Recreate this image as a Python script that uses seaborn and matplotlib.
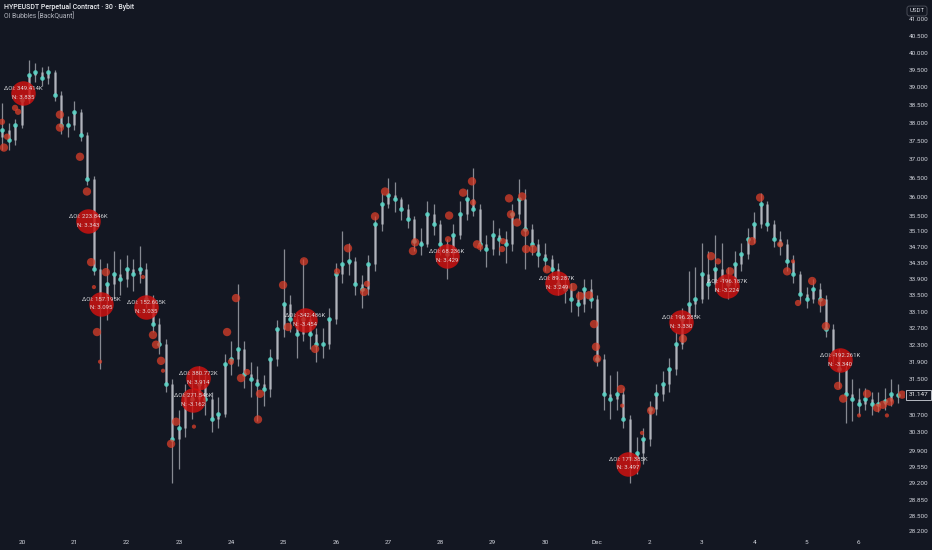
import numpy as np
import pandas as pd
import matplotlib
matplotlib.use("Agg")
import matplotlib.pyplot as plt
import matplotlib.transforms as mtransforms
import seaborn as sns

# 3h candles, time in hours from Nov 20 00:00
candle_hours = list(range(-9, 403, 3))
first_open = 37.60
closes = [37.81, 37.54, 37.95, 38.64, 39.35, 39.44, 39.27, 39.44, 38.78, 37.95,
          37.95, 38.31, 37.67, 36.46, 34.14, 33.41, 33.78, 34.02, 33.90, 34.14,
          34.02, 34.14, 33.41, 32.80, 32.33, 31.40, 30.16, 30.39, 31.17, 31.06,
          31.40, 31.06, 30.61, 30.72, 31.86, 31.98, 32.21, 31.63, 31.51, 31.40,
          31.28, 31.98, 32.68, 33.28, 32.92, 32.57, 32.92, 32.57, 32.33, 32.33,
          32.92, 34.02, 34.27, 34.34, 33.78, 33.65, 34.27, 35.28, 35.80, 36.06,
          35.93, 35.67, 35.41, 34.85, 34.77, 35.54, 35.28, 34.77, 34.52, 35.02,
          35.54, 35.93, 35.67, 34.77, 34.65, 35.02, 34.90, 34.77, 35.54, 35.93,
          35.15, 34.77, 34.52, 34.39, 34.14, 33.78, 33.65, 33.41, 33.28, 33.65,
          33.41, 31.98, 31.17, 31.06, 31.17, 30.61, 29.73, 29.84, 30.16, 30.83,
          31.17, 31.40, 31.74, 32.33, 32.92, 33.28, 33.41, 34.02, 33.78, 34.14,
          33.90, 33.78, 34.27, 34.52, 34.90, 35.28, 35.80, 35.28, 34.90, 34.77,
          34.34, 34.02, 33.53, 33.41, 33.65, 33.41, 32.68, 32.10, 31.74, 31.17,
          31.06, 30.94, 31.06, 30.94, 30.94, 31.00, 31.17, 31.147]
highs = [38.56, 38.00, 38.10, 38.80, 39.79, 39.70, 39.60, 39.62, 39.50, 38.90,
         38.20, 38.60, 38.40, 37.75, 36.55, 34.40, 34.30, 34.60, 34.40, 34.50,
         34.40, 34.72, 34.30, 33.50, 32.95, 32.45, 31.50, 30.80, 31.40, 31.70,
         31.80, 31.60, 31.20, 31.10, 32.10, 32.40, 33.78, 32.40, 31.90, 31.80,
         31.60, 32.20, 32.90, 34.65, 33.50, 33.10, 34.40, 33.10, 32.70, 32.70,
         33.20, 34.30, 35.10, 34.80, 34.45, 34.00, 34.50, 35.50, 36.10, 36.50,
         36.40, 36.00, 35.80, 35.50, 35.20, 35.90, 35.80, 35.40, 34.90, 35.30,
         35.90, 36.20, 36.76, 35.80, 35.00, 35.40, 35.20, 35.10, 35.80, 36.46,
         36.20, 35.30, 34.90, 34.80, 34.50, 34.30, 34.00, 33.80, 33.60, 33.90,
         33.90, 33.50, 32.10, 31.60, 31.70, 31.30, 30.70, 30.20, 30.40, 31.00,
         31.40, 31.70, 32.00, 32.60, 33.20, 34.10, 34.20, 34.80, 34.60, 35.00,
         34.80, 34.20, 34.60, 34.80, 35.20, 35.60, 36.10, 35.90, 35.40, 35.10,
         34.90, 34.50, 34.10, 33.70, 33.90, 33.80, 33.50, 32.80, 32.20, 31.90,
         31.50, 31.30, 31.30, 31.20, 31.20, 31.30, 31.50, 31.40]
lows = [37.26, 37.26, 37.40, 37.85, 38.55, 39.15, 39.05, 39.10, 38.60, 37.70,
        37.60, 37.80, 37.50, 36.30, 34.00, 31.74, 32.90, 33.40, 33.50, 33.70,
        33.60, 33.80, 33.20, 32.60, 32.10, 31.20, 29.20, 29.50, 30.20, 30.60,
        30.90, 30.70, 30.30, 30.40, 30.65, 31.60, 31.80, 31.30, 31.10, 30.56,
        30.90, 31.10, 31.80, 32.50, 32.60, 32.00, 32.40, 32.20, 31.90, 32.00,
        32.20, 32.80, 33.80, 34.00, 33.50, 33.20, 33.50, 34.10, 35.10, 35.70,
        35.60, 35.40, 35.20, 34.60, 34.50, 34.70, 35.00, 34.50, 33.90, 34.40,
        34.90, 35.40, 35.50, 34.60, 34.20, 34.50, 34.50, 34.30, 34.60, 35.40,
        34.15, 34.50, 34.20, 34.10, 33.90, 33.50, 33.30, 33.10, 33.00, 33.10,
        33.20, 31.80, 30.80, 30.60, 30.80, 30.40, 29.20, 29.40, 29.60, 30.00,
        30.70, 31.00, 31.20, 31.60, 32.20, 32.70, 33.00, 33.30, 33.40, 33.60,
        33.60, 33.40, 33.70, 34.10, 34.40, 34.80, 35.20, 35.10, 34.70, 34.50,
        34.10, 33.80, 33.30, 33.20, 33.30, 33.10, 32.50, 31.90, 31.30, 30.50,
        30.55, 30.70, 30.80, 30.70, 30.75, 30.80, 30.90, 30.95]

# small OI bubbles: time (h), price, radius (px)
bub_hours = [-9.2, -6.9, -8.3, -3.2, -1.8, 17.4, 17.4, 26.6, 29.8, 31.7, 38.5, 34.4,
             35.8, 33.0, 55.5, 60.1, 61.5, 63.8, 64.7, 70.7, 68.4, 78.9, 94.1, 98.2,
             95.9, 100.5, 103.3, 108.3, 109.2, 119.8, 122.1, 129.4, 134.5, 144.6,
             149.6, 157.0, 158.3, 162.0, 166.6, 179.4, 180.4, 196.0, 195.5, 202.4,
             206.5, 207.0, 208.8, 210.2, 220.7, 220.3, 223.5, 224.4, 227.2, 229.5,
             230.8, 231.3, 234.5, 240.9, 252.9, 256.1, 260.2, 262.5, 263.4, 263.9,
             274.9, 275.4, 288.7, 284.5, 303.3, 316.2, 319.4, 324.9, 335.0, 338.7,
             347.9, 351.1, 353.8, 356.1, 362.6, 367.1, 368.9, 374.5, 376.8, 387.8,
             392.4, 395.1, 398.3, 403.9, 384.1, 396.9]
bub_prices = [38.03, 37.62, 37.32, 38.42, 38.31, 38.23, 37.87, 37.07, 36.14, 34.32,
              34.07, 32.61, 31.91, 33.70, 33.95, 32.54, 32.31, 31.93, 31.70, 30.54,
              30.05, 30.43, 32.61, 33.43, 31.91, 31.53, 31.67, 30.59, 31.17, 33.75,
              32.73, 34.34, 32.21, 34.09, 34.67, 33.58, 33.78, 35.49, 36.14, 34.60,
              34.82, 35.51, 34.90, 36.11, 36.41, 35.85, 34.77, 34.70, 34.85, 34.65,
              35.96, 35.54, 35.33, 36.01, 35.07, 34.65, 34.65, 34.14, 33.70, 33.48,
              33.50, 32.80, 32.26, 31.98, 31.28, 30.90, 30.79, 30.29, 32.45, 34.47,
              34.34, 34.09, 34.85, 35.98, 34.77, 34.09, 34.34, 33.31, 33.85, 33.33,
              32.75, 31.35, 31.06, 31.17, 30.85, 30.92, 30.99, 31.15, 30.68, 30.68]
bub_radius = [3, 3, 4, 3, 3, 4, 4, 4, 4, 4, 4, 4, 2, 2, 2, 4, 4, 4, 2, 4, 4, 2, 4, 4,
              3, 4, 3, 4, 4, 4, 4, 4, 4, 3, 4, 4, 3, 4, 4, 4, 4, 4, 3, 4, 4, 3, 4, 3,
              3, 3, 4, 4, 4, 4, 4, 4, 4, 4, 4, 4, 4, 4, 4, 4, 4, 2, 4, 2, 4, 4, 3, 4,
              4, 4, 3, 4, 2, 3, 4, 4, 4, 4, 4, 4, 4, 4, 4, 4, 2, 2]

# large labelled bubbles
big_hours = [0.5, 30.3, 36.3, 56.9, 80.8, 78.5, 129.9, 195.0, 245.5, 278.1, 302.4, 323.5, 375.4]
big_prices = [38.83, 35.36, 33.29, 33.21, 31.53, 31.03, 32.90, 34.47, 33.80, 29.62, 32.85, 33.73, 31.95]
big_oi = ["349.414K", "223.846K", "157.195K", "152.605K", "380.772K", "271.546K",
          "-342.486K", "68.236K", "89.287K", "171.385K", "196.288K", "-196.187K", "-192.261K"]
big_n = ["3.835", "3.343", "3.095", "3.035", "3.914", "-3.162",
         "-3.454", "3.429", "3.249", "3.497", "3.330", "-3.224", "-3.340"]

price_ticks = [41.0, 40.5, 40.0, 39.5, 39.0, 38.5, 38.0, 37.5, 37.0, 36.5, 36.0, 35.5,
               35.1, 34.7, 34.3, 33.9, 33.5, 33.1, 32.7, 32.3, 31.9, 31.5, 30.7, 30.3,
               29.9, 29.55, 29.2, 28.85, 28.5, 28.2]
day_labels = ["20", "21", "22", "23", "24", "25", "26", "27", "28", "29", "30",
              "Dec", "2", "3", "4", "5", "6"]
last_price = 31.147

bg = "#131722"
sns.set_theme(style="dark", rc={"axes.facecolor": bg, "figure.facecolor": bg})
plt.rcParams["font.family"] = ["Roboto", "DejaVu Sans"]

fig = plt.figure(figsize=(9.32, 5.5), dpi=100)
ax = fig.add_axes([0, 13 / 550, 905 / 932, 537 / 550])
ax.set_facecolor(bg)

opens = [first_open] + closes[:-1]
candles = pd.DataFrame({"h": candle_hours, "o": opens, "c": closes, "hi": highs, "lo": lows})

# wicks and bodies
ax.vlines(candles["h"], candles["lo"], candles["hi"], color="#d6d8de", alpha=0.6, lw=0.9, zorder=2)
ax.vlines(candles["h"], candles[["o", "c"]].min(axis=1), candles[["o", "c"]].max(axis=1),
          color="#c4c7ce", alpha=0.7, lw=1.8, zorder=2)

# teal bubbles on each candle
sns.scatterplot(data=candles, x="h", y="c", color="#5cd6c8", s=11, linewidth=0,
                alpha=0.9, legend=False, ax=ax, zorder=3)

small = pd.DataFrame({"h": bub_hours, "p": bub_prices,
                      "s": [(1.5 * r) ** 2 for r in bub_radius]})
smin, smax = small["s"].min(), small["s"].max()
sns.scatterplot(data=small, x="h", y="p", size="s", sizes=(smin, smax), size_norm=(smin, smax),
                color="#e2402a", alpha=0.72, linewidth=0, legend=False, ax=ax, zorder=4)

big = pd.DataFrame({"h": big_hours, "p": big_prices})
sns.scatterplot(data=big, x="h", y="p", color="#d4110f", s=310, alpha=0.82,
                linewidth=0, legend=False, ax=ax, zorder=5)
for h, p, oi, n in zip(big_hours, big_prices, big_oi, big_n):
    ax.annotate("ΔOI: " + oi, (h, p), xytext=(0, 3.2), textcoords="offset points",
                ha="center", va="center", fontsize=4.3, color="#e6e7ea", alpha=0.9, zorder=6)
    ax.annotate("N: " + n, (h, p), xytext=(0, -3.0), textcoords="offset points",
                ha="center", va="center", fontsize=4.3, color="#e6e7ea", alpha=0.9, zorder=6)

# axes
ax.set_yscale("log")
ax.set_ylim(28.07, 41.574)
ax.set_xlim(-10.1, 405.2)
ax.set_yticks(price_ticks)
ax.set_yticklabels([f"{v:.3f}" for v in price_ticks])
ax.yaxis.set_minor_locator(matplotlib.ticker.NullLocator())
ax.yaxis.tick_right()
ax.set_xticks([24 * i for i in range(len(day_labels))])
ax.set_xticklabels(day_labels)
ax.tick_params(axis="y", length=0, pad=3, labelsize=4.6, labelcolor="#d1d4dc")
ax.tick_params(axis="x", length=0, pad=2, labelsize=4.6, labelcolor="#d1d4dc")
ax.set_xlabel("")
ax.set_ylabel("")
ax.grid(False)
for sp in ax.spines.values():
    sp.set_visible(False)

# last price tag
trans = mtransforms.blended_transform_factory(ax.transAxes, ax.transData)
ax.text(1.004, last_price, f"{last_price:.3f}", transform=trans, ha="left", va="center",
        fontsize=4.6, color="#e6e7ea", clip_on=False, zorder=7,
        bbox=dict(boxstyle="square,pad=0.35", fc=bg, ec="#d1d4dc", lw=0.6))

# currency tag
fig.text(917 / 932, 1 - 11 / 550, "USDT", ha="center", va="center", fontsize=4.4,
         color="#d1d4dc", bbox=dict(boxstyle="round,pad=0.4", fc=bg, ec="#50535e", lw=0.6))

fig.text(4 / 932, 1 - 7 / 550, "HYPEUSDT Perpetual Contract · 30 · Bybit", ha="left",
         va="center", fontsize=5.0, color="#eceef2", fontweight="medium")
fig.text(4 / 932, 1 - 16 / 550, "OI Bubbles [BackQuant]", ha="left", va="center",
         fontsize=4.9, color="#b2b5be")

plt.savefig("out.png", dpi=100, facecolor=bg)
